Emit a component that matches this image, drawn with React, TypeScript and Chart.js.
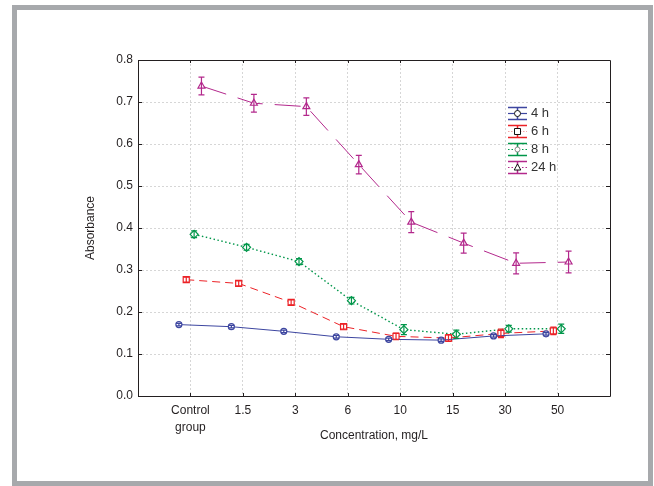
import React, { useEffect, useRef } from "react";
import { Chart, registerables } from "chart.js";

Chart.register(...registerables);

// ---- data ----
const categories = ["Control group", "1.5", "3", "6", "10", "15", "30", "50"];
const seriesNames = ["4 h", "6 h", "8 h", "24 h"];
const values4h = [0.17, 0.165, 0.154, 0.141, 0.135, 0.133, 0.143, 0.148];
const values6h = [0.277, 0.268, 0.223, 0.165, 0.142, 0.138, 0.149, 0.155];
const values8h = [0.385, 0.354, 0.32, 0.227, 0.158, 0.147, 0.16, 0.16];
const values24h = [0.738, 0.697, 0.689, 0.551, 0.414, 0.364, 0.316, 0.319];
const err4h = [0.003, 0.003, 0.003, 0.003, 0.003, 0.003, 0.003, 0.003];
const err6h = [0.006, 0.006, 0.006, 0.006, 0.008, 0.008, 0.01, 0.009];
const err8h = [0.008, 0.007, 0.007, 0.008, 0.012, 0.01, 0.008, 0.011];
const err24h = [0.021, 0.021, 0.021, 0.022, 0.025, 0.024, 0.025, 0.026];
const yTicks = [0, 0.1, 0.2, 0.3, 0.4, 0.5, 0.6, 0.7, 0.8];
const xTitle = "Concentration, mg/L";
const yTitle = "Absorbance";

const seriesValues = [values4h, values6h, values8h, values24h];
const seriesErrors = [err4h, err6h, err8h, err24h];

// ---- styles ----
const FONT = "'Liberation Sans', Arial, Helvetica, sans-serif";
const TEXT = "#231f20";
const GRID = "#d6d6d6";
const dodge = [-0.22, -0.08, 0.07, 0.21];
const styles = [
  { color: "#3d46a0", dash: [] as number[], pointStyle: "circle", radius: 3, width: 1 },
  { color: "#ec2227", dash: [8, 5], pointStyle: "rect", radius: 4.3, width: 1 },
  { color: "#00964a", dash: [1.5, 2.5], pointStyle: "rectRot", radius: 4, width: 1.4 },
  { color: "#b3288c", dash: [26, 12], pointStyle: "triangle", radius: 4, width: 1 },
];

const errorBarPlugin = {
  id: "errorBars",
  afterDatasetsDraw(chart: any) {
    const ctx = chart.ctx;
    const y = chart.scales.y;
    ctx.save();
    seriesErrors.forEach((errs, s) => {
      const meta = chart.getDatasetMeta(s);
      ctx.strokeStyle = styles[s].color;
      ctx.lineWidth = 1.2;
      ctx.setLineDash([]);
      meta.data.forEach((pt: any, i: number) => {
        const v = seriesValues[s][i];
        const e = errs[i];
        const y1 = y.getPixelForValue(v + e);
        const y2 = y.getPixelForValue(v - e);
        const x = pt.x;
        ctx.beginPath();
        ctx.moveTo(x, y1);
        ctx.lineTo(x, y2);
        ctx.moveTo(x - 3, y1);
        ctx.lineTo(x + 3, y1);
        ctx.moveTo(x - 3, y2);
        ctx.lineTo(x + 3, y2);
        ctx.stroke();
      });
    });
    ctx.restore();
  },
};

function drawLegend(ctx: CanvasRenderingContext2D) {
  const x0 = 508;
  const x1 = 527;
  const cx = (x0 + x1) / 2;
  const rowY = [113, 131, 149, 167];
  seriesNames.forEach((name, s) => {
    const yy = rowY[s] + 0.5;
    const col = styles[s].color;
    // caps and stem
    ctx.save();
    ctx.setLineDash([]);
    ctx.strokeStyle = col;
    ctx.lineWidth = 1.5;
    ctx.beginPath();
    ctx.moveTo(x0, yy - 6);
    ctx.lineTo(x1, yy - 6);
    ctx.moveTo(x0, yy + 6);
    ctx.lineTo(x1, yy + 6);
    ctx.moveTo(cx, yy - 6);
    ctx.lineTo(cx, yy + 6);
    ctx.stroke();
    ctx.restore();
    // middle line
    ctx.save();
    ctx.lineWidth = 1.2;
    if (s === 0) {
      ctx.setLineDash([]);
      ctx.strokeStyle = col;
    } else if (s === 1) {
      ctx.setLineDash([1.5, 1.5]);
      ctx.strokeStyle = "#f4a6a8";
    } else {
      ctx.setLineDash([1.5, 2]);
      ctx.strokeStyle = col;
    }
    ctx.beginPath();
    ctx.moveTo(x0, yy);
    ctx.lineTo(x1, yy);
    ctx.stroke();
    ctx.restore();
    // marker
    ctx.save();
    ctx.setLineDash([]);
    ctx.lineWidth = 1;
    ctx.fillStyle = "#ffffff";
    ctx.strokeStyle = s === 2 ? "#888888" : "#111111";
    ctx.beginPath();
    if (s === 0) {
      ctx.arc(cx, yy, 3, 0, Math.PI * 2);
    } else if (s === 1) {
      ctx.rect(cx - 3, yy - 3, 6, 6);
    } else if (s === 2) {
      ctx.arc(cx, yy, 2.5, 0, Math.PI * 2);
    } else {
      ctx.moveTo(cx, yy - 3.5);
      ctx.lineTo(cx + 3.3, yy + 2.5);
      ctx.lineTo(cx - 3.3, yy + 2.5);
      ctx.closePath();
    }
    ctx.fill();
    ctx.stroke();
    ctx.restore();
    // text
    ctx.save();
    ctx.fillStyle = "#333333";
    ctx.font = `13px ${FONT}`;
    ctx.textAlign = "left";
    ctx.textBaseline = "middle";
    ctx.fillText(name, 531, yy);
    ctx.restore();
  });
}

const framePlugin = {
  id: "frame",
  afterDraw(chart: any) {
    const ctx = chart.ctx;
    const { left, right, top, bottom } = chart.chartArea;
    const xs = chart.scales.x;
    const ys = chart.scales.y;
    ctx.save();
    ctx.setLineDash([]);
    ctx.strokeStyle = TEXT;
    ctx.lineWidth = 1;
    ctx.beginPath();
    ctx.rect(Math.round(left) + 0.5, Math.round(top) + 0.5, Math.round(right - left), Math.round(bottom - top));
    ctx.stroke();
    ctx.beginPath();
    ys.ticks.forEach((t: any) => {
      const py = Math.round(ys.getPixelForValue(t.value)) + 0.5;
      ctx.moveTo(left, py);
      ctx.lineTo(left + 4, py);
      ctx.moveTo(right, py);
      ctx.lineTo(right - 4, py);
    });
    xs.ticks.forEach((t: any) => {
      const px = Math.round(xs.getPixelForValue(t.value)) + 0.5;
      ctx.moveTo(px, bottom);
      ctx.lineTo(px, bottom - 3);
      ctx.moveTo(px, top);
      ctx.lineTo(px, top + 3);
    });
    ctx.stroke();
    ctx.restore();
    drawLegend(ctx);
  },
};

export default function App() {
  const ref = useRef<HTMLCanvasElement>(null);
  useEffect(() => {
    const canvas = ref.current!;
    const datasets = seriesValues.map((vals, s) => ({
      label: seriesNames[s],
      data: vals.map((v, i) => ({ x: i + dodge[s], y: v })),
      borderColor: styles[s].color,
      backgroundColor: "#ffffff",
      borderWidth: styles[s].width,
      borderDash: styles[s].dash,
      pointStyle: styles[s].pointStyle as any,
      pointRadius: styles[s].radius,
      pointBorderWidth: 1.2,
      pointBorderColor: styles[s].color,
      pointBackgroundColor: "#ffffff",
      tension: 0,
      fill: false,
    }));
    const chart = new Chart(canvas, {
      type: "line",
      data: { datasets },
      options: {
        animation: false,
        responsive: false,
        maintainAspectRatio: false,
        layout: { padding: { left: 83, right: 44, top: 60, bottom: 0 } },
        plugins: { legend: { display: false }, tooltip: { enabled: false } },
        scales: {
          x: {
            type: "linear",
            min: -1,
            max: 8,
            afterBuildTicks: (scale: any) => {
              scale.ticks = categories.map((_, i) => ({ value: i }));
            },
            afterFit: (scale: any) => {
              scale.height = 90;
            },
            ticks: {
              autoSkip: false,
              maxRotation: 0,
              padding: 6,
              color: TEXT,
              font: { family: FONT, size: 12, lineHeight: 1.4 },
              callback: (value: any) => {
                const lab = categories[Math.round(Number(value))];
                return lab ? lab.split(" ") : "";
              },
            },
            grid: { color: GRID, lineWidth: 1, drawTicks: false },
            border: { display: false, dash: [2, 2] },
            title: {
              display: true,
              text: xTitle,
              color: TEXT,
              font: { family: FONT, size: 12 },
              padding: { top: 0, bottom: 43 },
            },
          },
          y: {
            type: "linear",
            min: 0,
            max: 0.8,
            afterBuildTicks: (scale: any) => {
              scale.ticks = yTicks.map((v) => ({ value: v }));
            },
            afterFit: (scale: any) => {
              scale.width = 55;
            },
            ticks: {
              padding: 5,
              color: TEXT,
              font: { family: FONT, size: 12 },
              callback: (value: any) => Number(value).toFixed(1),
            },
            grid: { color: GRID, lineWidth: 1, drawTicks: false },
            border: { display: false, dash: [2, 2] },
            title: {
              display: true,
              text: yTitle,
              color: TEXT,
              font: { family: FONT, size: 12 },
              padding: { top: 0, bottom: 0 },
            },
          },
        },
      },
      plugins: [errorBarPlugin, framePlugin],
    } as any);
    return () => chart.destroy();
  }, []);
  return (
    <div style={{ position: "fixed", left: 0, top: 0, width: 654, height: 486, background: "#fff" }}>
      <canvas
        ref={ref}
        width={654}
        height={486}
        style={{ position: "absolute", left: 0, top: 0, width: 654, height: 486 }}
      />
      <div
        style={{
          position: "absolute",
          left: 12,
          top: 5,
          width: 641,
          height: 481,
          border: "5px solid #a7a9ac",
          boxSizing: "border-box",
          pointerEvents: "none",
        }}
      />
    </div>
  );
}
